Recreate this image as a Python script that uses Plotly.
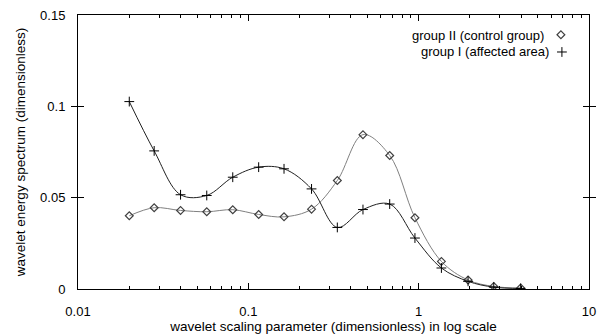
import plotly.graph_objects as go

scale = [0.020, 0.028, 0.040, 0.057, 0.081, 0.115, 0.162, 0.235, 0.333, 0.471,
         0.676, 0.951, 1.36, 1.95, 2.76, 3.97]
group2 = [0.0401, 0.0445, 0.0430, 0.0423, 0.0434, 0.0408, 0.0395, 0.0437, 0.0594, 0.0845,
          0.0731, 0.0390, 0.0151, 0.0049, 0.0014, 0.0005]
group1 = [0.1026, 0.0756, 0.0516, 0.0512, 0.0612, 0.0667, 0.0658, 0.0548, 0.0337, 0.0435,
          0.0465, 0.0279, 0.0115, 0.0042, 0.0010, 0.0003]

xticks = [0.01, 0.1, 1, 10]
xticklabels = ["0.01", "0.1", "1", "10"]
xminor = [0.02, 0.03, 0.04, 0.05, 0.06, 0.07, 0.08, 0.09,
          0.2, 0.3, 0.4, 0.5, 0.6, 0.7, 0.8, 0.9,
          2, 3, 4, 5, 6, 7, 8, 9]
yticks = [0, 0.05, 0.1, 0.15]
yticklabels = ["0", "0.05", "0.1", "0.15"]

legend_labels = ["group II (control group)", "group I (affected area)"]

diamond = dict(symbol="diamond-open", size=6, color="#404040", line=dict(width=1.2))
cross = dict(symbol="cross-thin-open", size=7, color="#000000", line=dict(width=1, color="#000000"))

fig = go.Figure()
fig.add_trace(go.Scatter(
    x=scale, y=group2, mode="lines+markers", name=legend_labels[0],
    line=dict(shape="spline", smoothing=1.0, color="#808080", width=1),
    marker=diamond, showlegend=False))
fig.add_trace(go.Scatter(
    x=scale, y=group1, mode="lines+markers", name=legend_labels[1],
    line=dict(shape="spline", smoothing=1.0, color="#202020", width=1),
    marker=cross, showlegend=False))
# invisible copy on a top axis so the top frame carries the minor ticks too
fig.add_trace(go.Scatter(
    x=scale, y=group1, xaxis="x2", mode="markers", marker=dict(opacity=0),
    hoverinfo="skip", showlegend=False))
# legend key symbols on a hidden unit overlay axis
fig.add_trace(go.Scatter(x=[0.945], y=[0.928], xaxis="x3", yaxis="y3", mode="markers",
                         marker=diamond, hoverinfo="skip", showlegend=False))
fig.add_trace(go.Scatter(x=[0.947], y=[0.865], xaxis="x3", yaxis="y3", mode="markers",
                         marker=cross, hoverinfo="skip", showlegend=False))

font = dict(family="Liberation Sans, Arial, sans-serif", size=13, color="#000000")
tfont = dict(family="Liberation Sans, Arial, sans-serif", size=13.5, color="#000000")

fig.add_annotation(xref="paper", yref="paper", x=0.916, y=0.927, xanchor="right", yanchor="middle",
                   text=legend_labels[0], showarrow=False, font=font)
fig.add_annotation(xref="paper", yref="paper", x=0.926, y=0.865, xanchor="right", yanchor="middle",
                   text=legend_labels[1], showarrow=False, font=font)

fig.update_layout(
    width=597, height=335,
    margin=dict(l=78, r=8, t=15, b=46),
    paper_bgcolor="white", plot_bgcolor="white",
    font=font,
    xaxis=dict(
        type="log", range=[-2, 1], tickvals=xticks, ticktext=xticklabels,
        ticks="inside", ticklen=6, tickwidth=1, tickcolor="black",
        showline=True, linecolor="black", linewidth=1, mirror="allticks",
        showgrid=False, zeroline=False, ticklabelstandoff=10, automargin=False,
        minor=dict(tickvals=xminor, ticks="inside", ticklen=3, tickcolor="black", showgrid=False),
        title=dict(text="wavelet scaling parameter (dimensionless) in log scale", standoff=2,
                   font=tfont),
    ),
    xaxis2=dict(
        type="log", range=[-2, 1], overlaying="x", side="top", tickvals=xticks,
        showticklabels=False, ticks="inside", ticklen=6, tickwidth=1, tickcolor="black",
        showline=False, showgrid=False, zeroline=False, automargin=False,
        minor=dict(tickvals=xminor, ticks="inside", ticklen=3, tickcolor="black", showgrid=False),
    ),
    xaxis3=dict(range=[0, 1], overlaying="x", visible=False),
    yaxis3=dict(range=[0, 1], overlaying="y", visible=False),
    yaxis=dict(
        range=[0, 0.15], tickvals=yticks, ticktext=yticklabels,
        ticks="inside", ticklen=6, tickwidth=1, tickcolor="black",
        showline=True, linecolor="black", linewidth=1, mirror="allticks",
        showgrid=False, zeroline=False, ticklabelstandoff=9, automargin=False,
        title=dict(text="wavelet energy spectrum (dimensionless)", standoff=11, font=tfont),
    ),
)

fig.write_html("out.html")
